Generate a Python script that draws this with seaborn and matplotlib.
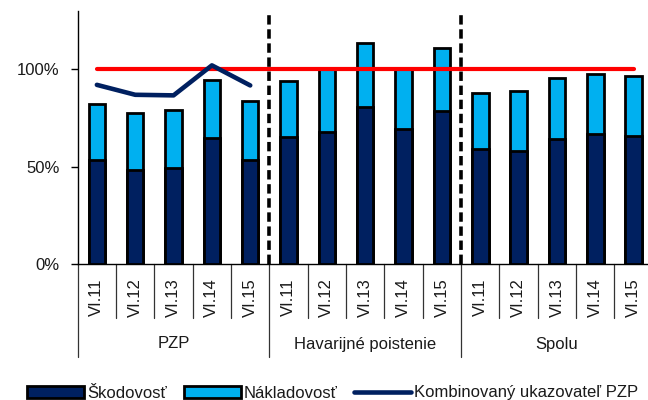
import numpy as np
import pandas as pd
import matplotlib
matplotlib.use("Agg")
import matplotlib.pyplot as plt
from matplotlib.patches import Patch
from matplotlib.lines import Line2D
import seaborn as sns

# ---- data ----
groups = ["PZP", "Havarijné poistenie", "Spolu"]
years = ["VI.11", "VI.12", "VI.13", "VI.14", "VI.15"]
skodovost = [53.6, 48.5, 49.3, 64.7, 53.6,
             65.3, 68.1, 80.7, 69.5, 78.8,
             59.2, 57.9, 64.5, 67.1, 65.9]
nakladovost = [28.6, 29.4, 30.0, 29.7, 30.3,
               28.9, 32.4, 32.9, 30.5, 32.0,
               28.7, 30.8, 30.9, 30.5, 30.7]
kombinovany_pzp = [92.1, 87.0, 86.7, 102.1, 91.8]
hranica = 100

sns.set_theme(style="white")
plt.rcParams["font.family"] = ["Liberation Sans", "DejaVu Sans"]

keys = [f"{g}|{y}" for g in groups for y in years]
df = pd.DataFrame({
    "kat": keys,
    "skod": skodovost,
    "spolu": np.array(skodovost) + np.array(nakladovost),
})
line_df = pd.DataFrame({"kat": keys[:5], "val": kombinovany_pzp})
red_df = pd.DataFrame({"kat": keys, "val": [hranica] * len(keys)})

navy = "#002060"
light = "#00B0F0"

fig = plt.figure(figsize=(6.48, 4.0), dpi=100)
ax = fig.add_axes([77.7 / 648, 1 - 264.3 / 400, (652.8 - 77.7) / 648, (264.3 - 11) / 400])

sns.barplot(data=df, x="kat", y="spolu", order=keys, color=light, saturation=1,
            width=0.43, edgecolor="black", linewidth=2.0, ax=ax, zorder=2)
sns.barplot(data=df, x="kat", y="skod", order=keys, color=navy, saturation=1,
            width=0.43, edgecolor="black", linewidth=2.0, ax=ax, zorder=3)

sns.lineplot(data=red_df, x="kat", y="val", color="#FF0000", linewidth=3.0,
             sort=False, ax=ax, zorder=4)
sns.lineplot(data=line_df, x="kat", y="val", color=navy, linewidth=3.3,
             sort=False, ax=ax, zorder=5)

n = len(keys)
ax.set_xlim(-0.5, n - 0.5)
ax.set_ylim(0, 130)
ax.set_yticks([0, 50, 100])
ax.set_yticklabels(["0%", "50%", "100%"])
ax.set_xticks(range(n))
ax.set_xticklabels(years * len(groups), rotation=90, va="top", ha="center")
ax.set_xlabel("")
ax.set_ylabel("")

ax.tick_params(axis="y", direction="out", length=5, width=1, color="black",
               labelsize=12, pad=8, labelcolor="#1a1a1a", left=True)
ax.tick_params(axis="x", length=0, labelsize=12, pad=10, labelcolor="#1a1a1a")

for s in ["top", "right"]:
    ax.spines[s].set_visible(False)
for s in ["left", "bottom"]:
    ax.spines[s].set_color("black")
    ax.spines[s].set_linewidth(1.0)

# group dashed separators in plot area
for b in range(1, len(groups)):
    xpos = b * len(years) - 0.5
    ax.axvline(xpos, ymin=0, ymax=1, color="black", linewidth=2.6,
               linestyle=(0, (2.6, 1.3)), zorder=6)

# category separators below axis
trans = ax.get_xaxis_transform()
axis_h = 264.3 - 11
short = -54 / axis_h
long_ = -93 / axis_h
for i in range(n + 1):
    xpos = i - 0.5
    if i % len(years) == 0:
        ax.plot([xpos, xpos], [0, long_], transform=trans, color="#333333",
                linewidth=0.9, clip_on=False)
    else:
        ax.plot([xpos, xpos], [0, short], transform=trans, color="#333333",
                linewidth=0.9, clip_on=False)

lab_y = (264.3 - 344) / axis_h
for gi, g in enumerate(groups):
    ax.text(gi * len(years) + (len(years) - 1) / 2, lab_y, g, transform=trans,
            ha="center", va="center", fontsize=12, color="#1a1a1a")

handles = [
    Patch(facecolor=navy, edgecolor="black", linewidth=2.0, label="Škodovosť"),
    Patch(facecolor=light, edgecolor="black", linewidth=2.0, label="Nákladovosť"),
    Line2D([0], [0], color=navy, linewidth=3.3, label="Kombinovaný ukazovateľ PZP"),
]
fig.legend(handles=handles, loc="center", bbox_to_anchor=(333 / 648, 1 - 393 / 400),
           ncol=3, frameon=False, fontsize=12, handlelength=3.4, handleheight=0.7,
           handletextpad=0.2, columnspacing=1.0, borderpad=0, labelcolor="#1a1a1a")

fig.savefig("out.png", dpi=100)
